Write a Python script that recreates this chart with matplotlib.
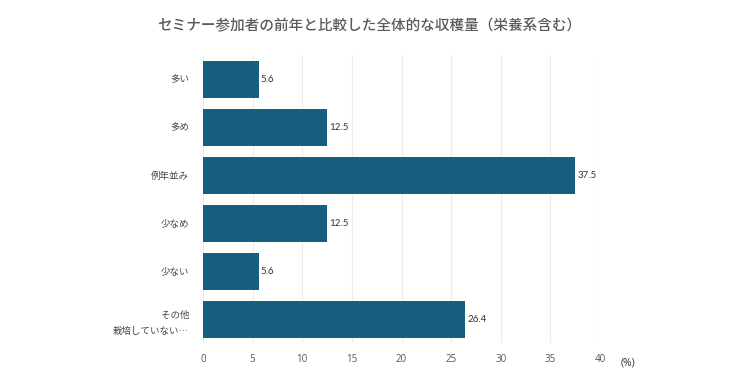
import matplotlib
matplotlib.use('Agg')
import matplotlib.pyplot as plt

plt.rcParams['font.family'] = ['Noto Sans CJK JP', 'DejaVu Sans']

# data
categories = ['多い', '多め', '例年並み', '少なめ', '少ない', 'その他\n栽培していない…']
values = [5.6, 12.5, 37.5, 12.5, 5.6, 26.4]
value_labels = ['5.6', '12.5', '37.5', '12.5', '5.6', '26.4']
xticks = [0, 5, 10, 15, 20, 25, 30, 35, 40]

fig = plt.figure(figsize=(7.3, 3.75), dpi=100)
ax = fig.add_axes([0.278, 0.085, 0.544, 0.768])

pos = list(range(len(categories)))
ax.barh(pos, values, height=0.77, color='#175e7f', zorder=2)
for p, v, lab in zip(pos, values, value_labels):
    ax.text(v + 0.2, p, lab, va='center', ha='left', fontsize=7, color='#333333',
            family=['Lato', 'DejaVu Sans'])

ax.set_ylim(len(categories) - 0.5, -0.5)
ax.set_yticks(pos)
ax.set_yticklabels(categories, fontsize=6.8, color='#444444', linespacing=2.0)
ax.set_xlim(0, 40)
ax.set_xticks(xticks)
ax.set_xticklabels([str(t) for t in xticks], fontsize=7, color='#555555',
                   family=['Open Sans', 'DejaVu Sans'])
ax.tick_params(length=0, pad=8)
ax.tick_params(axis='y', pad=10)
ax.grid(axis='x', color='#ececec', linewidth=0.8, zorder=0)
for s in ax.spines.values():
    s.set_visible(False)

fig.text(0.86, 0.033, '(%)', fontsize=7.5, color='#333333', ha='center', va='center',
         family=['Open Sans', 'DejaVu Sans'])
fig.text(0.506, 0.93, 'セミナー参加者の前年と比較した全体的な収穫量（栄養系含む）',
         fontsize=10.5, color='#5a5a5a', ha='center', va='center', fontweight='medium')

fig.savefig('out.png', dpi=100)
